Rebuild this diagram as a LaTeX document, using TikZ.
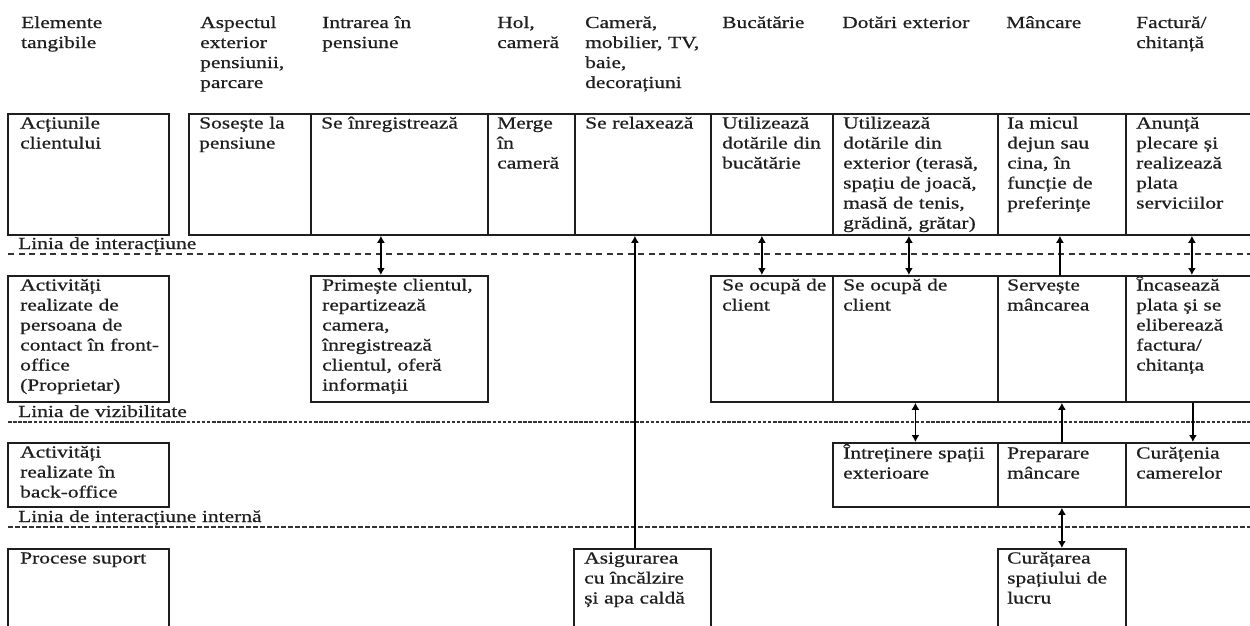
\documentclass[tikz,border=0pt]{standalone}
\usepackage{fontspec}
\setmainfont{Liberation Serif}[FakeStretch=1.27,FakeBold=0.6]
\usetikzlibrary{arrows.meta}
\definecolor{ink}{HTML}{1E1E1E}
\definecolor{rule}{HTML}{333333}
\begin{document}
\begin{tikzpicture}[x=1pt,y=-1pt,
  box/.style 2 args={draw=ink, line width=1.8pt, anchor=north west, inner sep=0pt,
    minimum width=#1, minimum height=#2},
  txt/.style={font=\fontsize{16.9}{20}\selectfont, text=ink, anchor=base west, inner sep=0pt,
    align=left, text width=400pt},
  tip/.tip={Latex[length=7pt,width=8pt]},
  dbl/.style={line width=1.8pt, draw=black, tip-tip},
  sgl/.style={line width=1.8pt, draw=black, -tip},
  sepwide/.style={draw=rule, line width=1.4pt, dash pattern=on 6pt off 4.5pt},
  sepfine/.style={draw=rule, line width=1.4pt, dash pattern=on 3.5pt off 1.6pt},
  sepmid/.style={draw=rule, line width=1.4pt, dash pattern=on 5pt off 2pt},
]
\useasboundingbox (0,0) rectangle (1250,625);
\fill[white] (0,0) rectangle (1250,625);
\clip (0,0) rectangle (1250,625);

% column headings
\node[txt] (h0) at (21,28)   {Elemente\\tangibile};
\node[txt] (h1) at (200,28)  {Aspectul\\exterior\\pensiunii,\\parcare};
\node[txt] (h2) at (322,28)  {Intrarea în\\pensiune};
\node[txt] (h3) at (497,28)  {Hol,\\cameră};
\node[txt] (h4) at (585,28)  {Cameră,\\mobilier, TV,\\baie,\\decorațiuni};
\node[txt] (h5) at (722,28)  {Bucătărie};
\node[txt] (h6) at (842,28)  {Dotări exterior};
\node[txt] (h7) at (1006,28) {Mâncare};
\node[txt] (h8) at (1136,28) {Factură/\\chitanță};

% row 1: customer actions
\node[box={161}{121}] (l1) at (7,113) {};
\node[box={122}{121}] (a1) at (188,113) {};
\node[box={177}{121}] (a2) at (310,113) {};
\node[box={87}{121}]  (a3) at (487,113) {};
\node[box={136}{121}] (a4) at (574,113) {};
\node[box={122}{121}] (a5) at (710,113) {};
\node[box={165}{121}] (a6) at (832,113) {};
\node[box={128}{121}] (a7) at (997,113) {};
\node[box={132}{121}] (a8) at (1125,113) {};
\node[txt] at ([shift={(13,15.5)}]l1.north west) {Acțiunile\\clientului};
\node[txt] at ([shift={(11,15.5)}]a1.north west) {Sosește la\\pensiune};
\node[txt] at ([shift={(11,15.5)}]a2.north west) {Se înregistrează};
\node[txt] at ([shift={(10,15.5)}]a3.north west) {Merge\\în\\cameră};
\node[txt] at ([shift={(11,15.5)}]a4.north west) {Se relaxează};
\node[txt] at ([shift={(12,15.5)}]a5.north west) {Utilizează\\dotările din\\bucătărie};
\node[txt] at ([shift={(11,15.5)}]a6.north west) {Utilizează\\dotările din\\exterior (terasă,\\spațiu de joacă,\\masă de tenis,\\grădină, grătar)};
\node[txt] at ([shift={(10,15.5)}]a7.north west) {Ia micul\\dejun sau\\cina, în\\funcție de\\preferințe};
\node[txt] at ([shift={(11,15.5)}]a8.north west) {Anunță\\plecare și\\realizează\\plata\\serviciilor};

% line of interaction
\node[txt] (li) at (18,249) {Linia de interacțiune};
\draw[sepwide] (8,254) -- (1250,254);

% row 2: front-office contact staff
\node[box={161}{126}] (l2) at (7,275) {};
\node[box={177}{126}] (f1) at (310,275) {};
\node[box={122}{126}] (f2) at (710,275) {};
\node[box={165}{126}] (f3) at (832,275) {};
\node[box={128}{126}] (f4) at (997,275) {};
\node[box={132}{126}] (f5) at (1125,275) {};
\node[txt] at ([shift={(13,15.5)}]l2.north west) {Activități\\realizate de\\persoana de\\contact în front-\\office\\(Proprietar)};
\node[txt] at ([shift={(12,15.5)}]f1.north west) {Primește clientul,\\repartizează\\camera,\\înregistrează\\clientul, oferă\\informații};
\node[txt] at ([shift={(12,15.5)}]f2.north west) {Se ocupă de\\client};
\node[txt] at ([shift={(11,15.5)}]f3.north west) {Se ocupă de\\client};
\node[txt] at ([shift={(10,15.5)}]f4.north west) {Servește\\mâncarea};
\node[txt] at ([shift={(11,15.5)}]f5.north west) {Încasează\\plata și se\\eliberează\\factura/\\chitanța};

% line of visibility
\node[txt] (lv) at (18,417) {Linia de vizibilitate};
\draw[sepfine] (8,422) -- (1250,422);

% row 3: back-office
\node[box={161}{64}] (l3) at (7,442) {};
\node[box={165}{64}] (b1) at (832,442) {};
\node[box={128}{64}] (b2) at (997,442) {};
\node[box={132}{64}] (b3) at (1125,442) {};
\node[txt] at ([shift={(13,15.5)}]l3.north west) {Activități\\realizate în\\back-office};
\node[txt] at ([shift={(11,16.5)}]b1.north west) {Întreținere spații\\exterioare};
\node[txt] at ([shift={(10,16.5)}]b2.north west) {Preparare\\mâncare};
\node[txt] at ([shift={(11,16.5)}]b3.north west) {Curățenia\\camerelor};

% line of internal interaction
\node[txt] (lin) at (18,522) {Linia de interacțiune internă};
\draw[sepmid] (8,527) -- (1250,527);

% row 4: support processes
\node[box={161}{100}] (l4) at (7,548) {};
\node[box={137}{100}] (s1) at (573,548) {};
\node[box={128}{100}] (s2) at (997,548) {};
\node[txt] at ([shift={(13,15.5)}]l4.north west) {Procese suport};
\node[txt] at ([shift={(11,15.5)}]s1.north west) {Asigurarea\\cu încălzire\\și apa caldă};
\node[txt] at ([shift={(10,15.5)}]s2.north west) {Curățarea\\spațiului de\\lucru};

% connectors
\draw[dbl] ([xshift=-18.5]a2.south) -- ([xshift=-18.5]f1.north);
\draw[sgl] ([xshift=-7.5]s1.north) -- ([xshift=-8]a4.south);
\draw[dbl] ([xshift=-10]a5.south) -- ([xshift=-10]f2.north);
\draw[dbl] ([xshift=-6.5]a6.south) -- ([xshift=-6.5]f3.north);
\draw[sgl] ([xshift=-2]f4.north) -- ([xshift=-2]a7.south);
\draw[dbl] (a8.south) -- (f5.north);
\draw[dbl] (f3.south) -- (b1.north);
\draw[sgl] (b2.north) -- (f4.south);
\draw[sgl] ([xshift=1]f5.south) -- ([xshift=1]b3.north);
\draw[dbl] (b2.south) -- (s2.north);
\end{tikzpicture}
\end{document}
